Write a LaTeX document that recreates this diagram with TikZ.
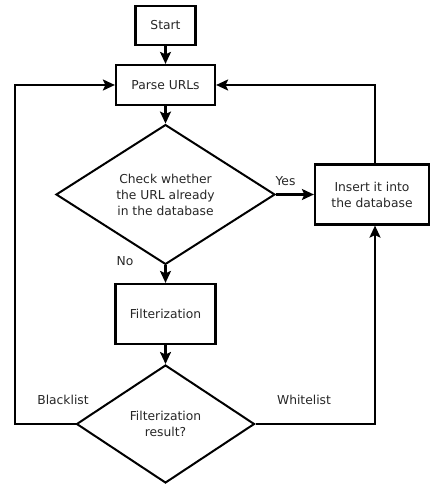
\documentclass[tikz,border=0pt]{standalone}
\usepackage{fontspec}
\setmainfont{DejaVu Sans}
\usetikzlibrary{arrows.meta,shapes.geometric}
\begin{document}
\begin{tikzpicture}[x=1pt,y=-1pt,
  every node/.style={font=\fontsize{12.3}{16}\selectfont, text=black!85},
  box/.style={draw, line width=2.2pt, inner sep=0pt, align=center},
  decision/.style={draw, line width=2pt, diamond, inner sep=0pt, align=center},
  flow/.style={line width=2.2pt, -{Stealth[length=12pt,width=11pt,inset=2.5pt]}},
  lbl/.style={inner sep=0pt}
]
\useasboundingbox (0,0) rectangle (430,486);

% process boxes
\node[box, minimum width=60pt, minimum height=39pt] (start) at (165.5,25.5) {Start};
\node[box, minimum width=99pt, minimum height=40pt] (parse) at (165.5,85) {Parse URLs};
\node[box, minimum width=100pt, minimum height=60pt] (filter) at (165.5,314) {Filterization};
\node[box, minimum width=114pt, minimum height=60pt] (insert) at (372,194.5) {Insert it into\\the database};

% decisions
\node[decision, minimum width=219pt, minimum height=139pt] (check) at (165.5,194.5)
  {Check whether\\the URL already\\in the database};
\node[decision, minimum width=178pt, minimum height=118pt] (result) at (165.5,424)
  {Filterization\\result?};

% corner points for the loops
\coordinate (tl) at (15,85);
\coordinate (bl) at (15,424);
\coordinate (tr) at (375,85);
\coordinate (br) at (375,424);

% connectors
\draw[flow] (start) -- (parse);
\draw[flow] (parse) -- (check);
\draw[flow] (check.east) -- (insert.west);
\draw[flow] (check.south) -- (filter.north);
\draw[flow] (filter) -- (result.north);
\draw[flow, line join=miter] (result.west) -- (bl) -- (tl) -- (parse.west);
\draw[flow, line join=miter] (result.east) -- (br) -- (insert.south -| br);
\draw[flow, line join=miter] (insert.north -| tr) -- (tr) -- (parse.east);

% branch labels
\node[lbl] (yes) at (285.5,181) {Yes};
\node[lbl] (no) at (125,261) {No};
\node[lbl] (black) at (63,400) {Blacklist};
\node[lbl] (white) at (304,400) {Whitelist};
\end{tikzpicture}
\end{document}
